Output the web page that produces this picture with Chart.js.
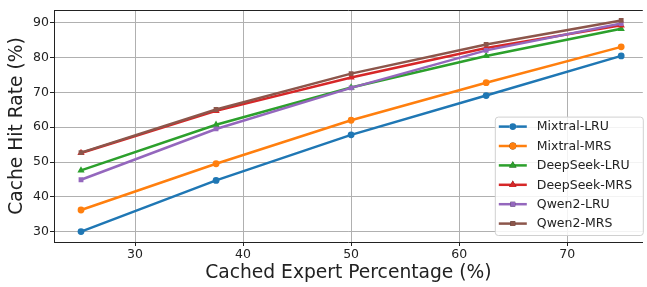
<!DOCTYPE html>
<html>
<head>
<meta charset="utf-8">
<script src="https://cdn.jsdelivr.net/npm/chart.js@4/dist/chart.umd.min.js"></script>
<style>
  html, body { margin: 0; padding: 0; background: #fff; }
  #wrap { width: 647px; height: 287px; }
</style>
</head>
<body>
<div id="wrap"><canvas id="myChart" width="647" height="287"></canvas></div>
<script>
// cached expert percentage on the x axis
const percentages = [25, 37.5, 50, 62.5, 75];

// cache hit rate (%) per model / policy
const mixtralLRU = [30.0, 44.7, 57.8, 69.1, 80.5];
const mixtralMRS = [36.2, 49.5, 62.0, 72.8, 83.1];
const deepseekLRU = [47.6, 60.7, 71.4, 80.5, 88.3];
const deepseekMRS = [52.6, 64.7, 74.3, 82.8, 89.3];
const qwen2LRU = [44.9, 59.5, 71.3, 82.1, 89.8];
const qwen2MRS = [52.7, 65.1, 75.4, 83.8, 90.7];

const seriesNames = ['Mixtral-LRU', 'Mixtral-MRS', 'DeepSeek-LRU', 'DeepSeek-MRS', 'Qwen2-LRU', 'Qwen2-MRS'];
const seriesValues = [mixtralLRU, mixtralMRS, deepseekLRU, deepseekMRS, qwen2LRU, qwen2MRS];

const xTicks = [30, 40, 50, 60, 70];
const yTicks = [30, 40, 50, 60, 70, 80, 90];

const colors = ['#1f77b4', '#ff7f0e', '#2ca02c', '#d62728', '#9467bd', '#8c564b'];
const markers = ['circle', 'circle', 'triangle', 'triangle', 'rect', 'rect'];

const FONT = "'DejaVu Sans', sans-serif";

var datasets = seriesNames.map(function (name, i) {
    return {
        label: name,
        data: percentages.map(function (x, j) { return { x: x, y: seriesValues[i][j] }; }),
        borderColor: colors[i],
        backgroundColor: colors[i],
        borderWidth: 2.5,
        pointStyle: markers[i],
        pointRadius: markers[i] === 'triangle' ? 4.2 : 3.4,
        pointBorderWidth: 0,
        tension: 0,
        order: seriesNames.length - 1 - i
    };
});

// axes frame (right spine is off the picture) and in-plot legend
const framePlugin = {
    id: 'frame',
    afterDraw: function (chart) {
        var ctx = chart.ctx;
        var a = chart.chartArea;
        ctx.save();
        ctx.strokeStyle = '#222';
        ctx.lineWidth = 1;
        ctx.beginPath();
        ctx.moveTo(a.left, a.top + 0.5);
        ctx.lineTo(a.right, a.top + 0.5);
        ctx.stroke();

        // legend box
        var boxW = 148, rowH = 19.4;
        var boxH = rowH * datasets.length + 2;
        var bx = a.right - boxW, by = a.bottom - boxH - 7;
        ctx.beginPath();
        ctx.roundRect(bx + 0.5, by + 0.5, boxW, boxH, 3);
        ctx.fillStyle = 'rgba(255,255,255,0.85)';
        ctx.fill();
        ctx.strokeStyle = '#d0d0d0';
        ctx.stroke();

        ctx.font = '12.5px ' + FONT;
        ctx.textBaseline = 'middle';
        chart.data.datasets.forEach(function (ds, i) {
            var y = by + 10 + i * rowH;
            var x0 = bx + 4;
            ctx.strokeStyle = ds.borderColor;
            ctx.lineWidth = 2.5;
            ctx.beginPath();
            ctx.moveTo(x0, y);
            ctx.lineTo(x0 + 28, y);
            ctx.stroke();
            Chart.helpers.drawPoint(ctx, {
                pointStyle: ds.pointStyle,
                radius: ds.pointRadius,
                rotation: 0,
                borderWidth: 0
            }, x0 + 14, y);
            ctx.fillStyle = ds.borderColor;
            ctx.fill();
            ctx.fillStyle = '#222';
            ctx.fillText(ds.label, x0 + 38, y + 0.5);
        });
        ctx.restore();
    }
};

new Chart(document.getElementById('myChart'), {
    type: 'line',
    data: { datasets: datasets },
    options: {
        responsive: false,
        animation: false,
        layout: { padding: { top: 10, right: 2, left: 0, bottom: 0 } },
        plugins: {
            legend: { display: false },
            tooltip: { enabled: false }
        },
        scales: {
            x: {
                type: 'linear',
                min: 22.5,
                max: 77.0,
                afterFit: function (scale) { scale.height = 45; },
                afterBuildTicks: function (scale) {
                    scale.ticks = xTicks.map(function (v) { return { value: v }; });
                },
                ticks: { color: '#222', font: { family: FONT, size: 12.5 }, padding: 1, maxRotation: 0 },
                grid: { color: '#b0b0b0', lineWidth: 1, tickLength: 4, tickColor: '#222' },
                border: { color: '#222', width: 1 },
                title: {
                    display: true,
                    text: 'Cached Expert Percentage (%)',
                    color: '#222',
                    font: { family: FONT, size: 18.7 },
                    padding: { top: 0, bottom: 3 }
                }
            },
            y: {
                min: 27.0,
                max: 93.7,
                afterFit: function (scale) { scale.width = 54; },
                afterBuildTicks: function (scale) {
                    scale.ticks = yTicks.map(function (v) { return { value: v }; });
                },
                ticks: { color: '#222', font: { family: FONT, size: 12.5 }, padding: 1 },
                grid: { color: '#b0b0b0', lineWidth: 1, tickLength: 4, tickColor: '#222' },
                border: { color: '#222', width: 1 },
                title: {
                    display: true,
                    text: 'Cache Hit Rate (%)',
                    color: '#222',
                    font: { family: FONT, size: 18.7 },
                    padding: { top: 6, bottom: 0 }
                }
            }
        }
    },
    plugins: [framePlugin]
});
</script>
</body>
</html>
